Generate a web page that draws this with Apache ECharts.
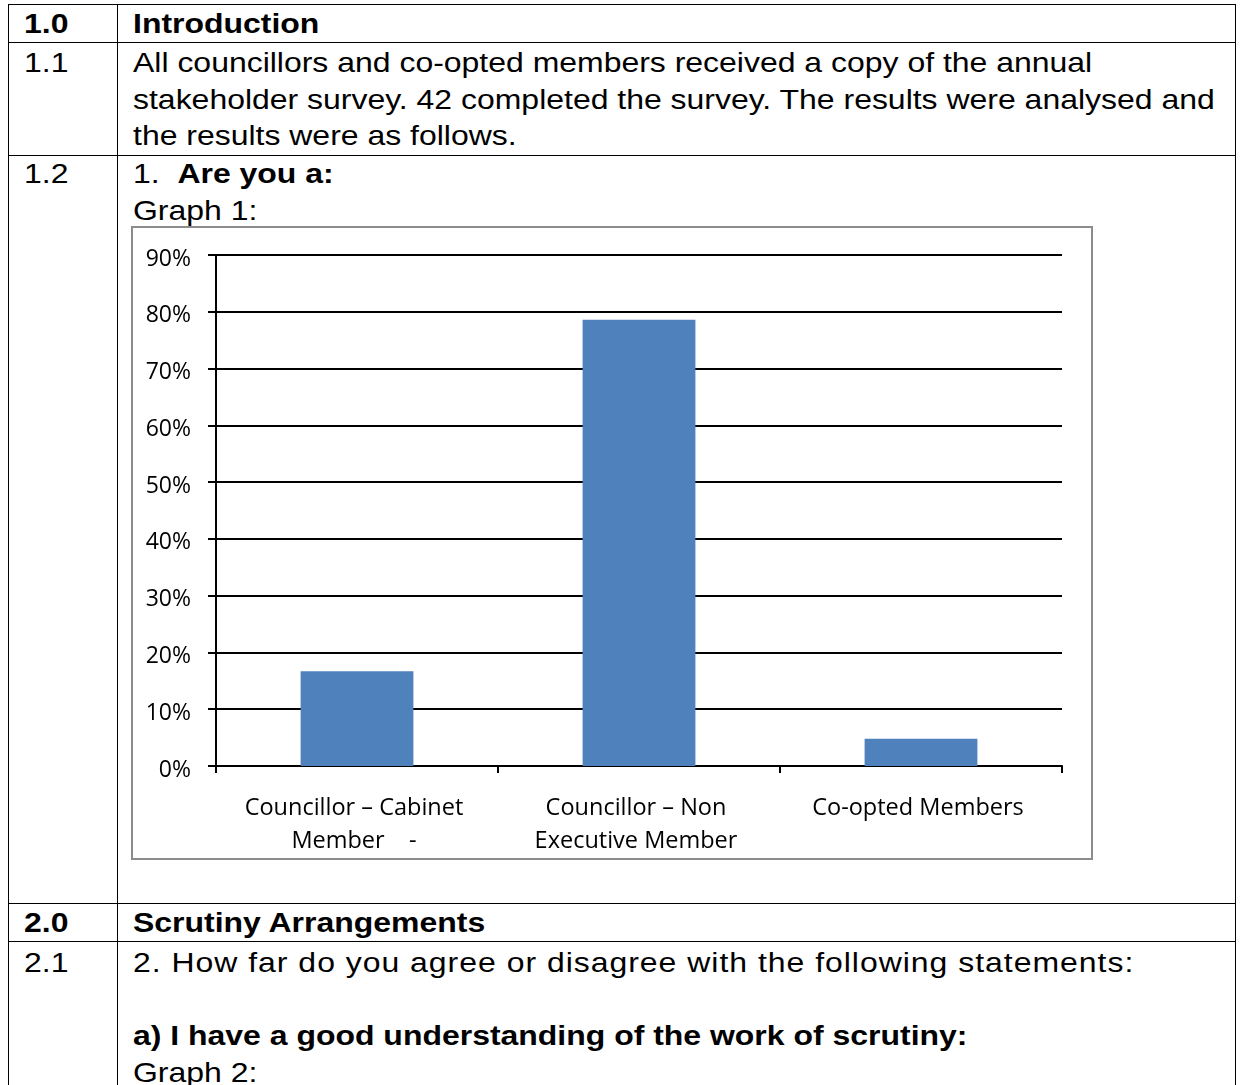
<!DOCTYPE html>
<html>
<head>
<meta charset="utf-8">
<script src="https://cdn.jsdelivr.net/npm/echarts@6/dist/echarts.min.js"></script>
<style>
  html, body { margin: 0; padding: 0; background: #fff; }
  body { width: 1241px; height: 1085px; position: relative; overflow: hidden; }
  .hl { position: absolute; height: 1px; background: #000; left: 8px; width: 1228px; }
  .vl { position: absolute; width: 1px; background: #000; top: 4px; height: 1081px; }
  .txt {
    position: absolute;
    font-family: "Liberation Sans", Arial, sans-serif;
    font-size: 27.5px;
    line-height: 36.5px;
    color: #000;
    white-space: pre;
    transform: scaleX(1.162);
    transform-origin: 0 0;
  }
  .b { font-weight: bold; }
  .wide { letter-spacing: 0.85px; }
  #chart { position: absolute; left: 131px; top: 226px; width: 962px; height: 634px; }
  #frame { position: absolute; left: 131px; top: 226px; width: 962px; height: 634px;
           box-sizing: border-box; border: 2px solid #8c8c8c; pointer-events: none; }
</style>
</head>
<body>
  <!-- table rules -->
  <div class="hl" style="top:4px"></div>
  <div class="hl" style="top:42px"></div>
  <div class="hl" style="top:155px"></div>
  <div class="hl" style="top:903px"></div>
  <div class="hl" style="top:941px"></div>
  <div class="vl" style="left:8px"></div>
  <div class="vl" style="left:117px"></div>
  <div class="vl" style="left:1235px"></div>

  <!-- section numbers -->
  <div class="txt b" style="left:24px; top:6px">1.0</div>
  <div class="txt" style="left:24px; top:45px">1.1</div>
  <div class="txt" style="left:24px; top:156px">1.2</div>
  <div class="txt b" style="left:24px; top:905px">2.0</div>
  <div class="txt" style="left:24px; top:945px">2.1</div>

  <!-- section text -->
  <div class="txt b" style="left:133px; top:6px">Introduction</div>
  <div class="txt" style="left:133px; top:45px">All councillors and co-opted members received a copy of the annual
stakeholder survey. 42 completed the survey. The results were analysed and
the results were as follows.</div>
  <div class="txt" style="left:133px; top:156px">1.  <span class="b">Are you a:</span>
Graph 1:</div>
  <div class="txt b" style="left:133px; top:905px">Scrutiny Arrangements</div>
  <div class="txt" style="left:133px; top:945px"><span class="wide">2. How far do you agree or disagree with the following statements:</span>

<span class="b">a) I have a good understanding of the work of scrutiny:</span>
Graph 2:</div>

  <div id="chart"></div>
  <div id="frame"></div>

<script>
// Graph 1: "Are you a:" — share of the 42 respondents
const categories = [
  'Councillor \u2013 Cabinet\nMember    -',
  'Councillor \u2013 Non\nExecutive Member',
  'Co-opted Members'
];
const shares = [16.7, 78.6, 4.8];
const yMin = 0;
const yMax = 90;
const yStep = 10;

const chart = echarts.init(document.getElementById('chart'), null, { renderer: 'canvas' });
const labelFont = '"Open Sans", "Noto Sans", sans-serif';

chart.setOption({
  animation: false,
  grid: { left: 85, right: 31, top: 29, bottom: 94, containLabel: false },
  xAxis: {
    type: 'category',
    data: categories,
    boundaryGap: true,
    axisLine: { show: true, lineStyle: { color: '#000', width: 2 } },
    axisTick: { show: true, length: 7, alignWithLabel: false, lineStyle: { color: '#000', width: 2 } },
    axisLabel: {
      interval: 0,
      margin: 26,
      color: '#000',
      fontFamily: labelFont,
      fontSize: 23.5,
      lineHeight: 33,
      align: 'center',
      padding: [0, 6, 0, 0]
    },
    splitLine: { show: false }
  },
  yAxis: {
    type: 'value',
    min: yMin,
    max: yMax,
    interval: yStep,
    axisLine: { show: true, lineStyle: { color: '#000', width: 2 } },
    axisTick: { show: true, length: 8, lineStyle: { color: '#000', width: 2 } },
    axisLabel: {
      margin: 25,
      color: '#000',
      fontFamily: labelFont,
      fontSize: 23,
      lineHeight: 28,
      verticalAlign: 'top',
      padding: [-10, 0, 0, 0],
      formatter: '{value}%'
    },
    splitLine: { show: true, lineStyle: { color: '#000', width: 2 } }
  },
  series: [{
    type: 'bar',
    data: shares,
    barWidth: '40%',
    itemStyle: { color: '#4f81bd' },
    label: { show: false }
  }]
});
</script>
</body>
</html>
